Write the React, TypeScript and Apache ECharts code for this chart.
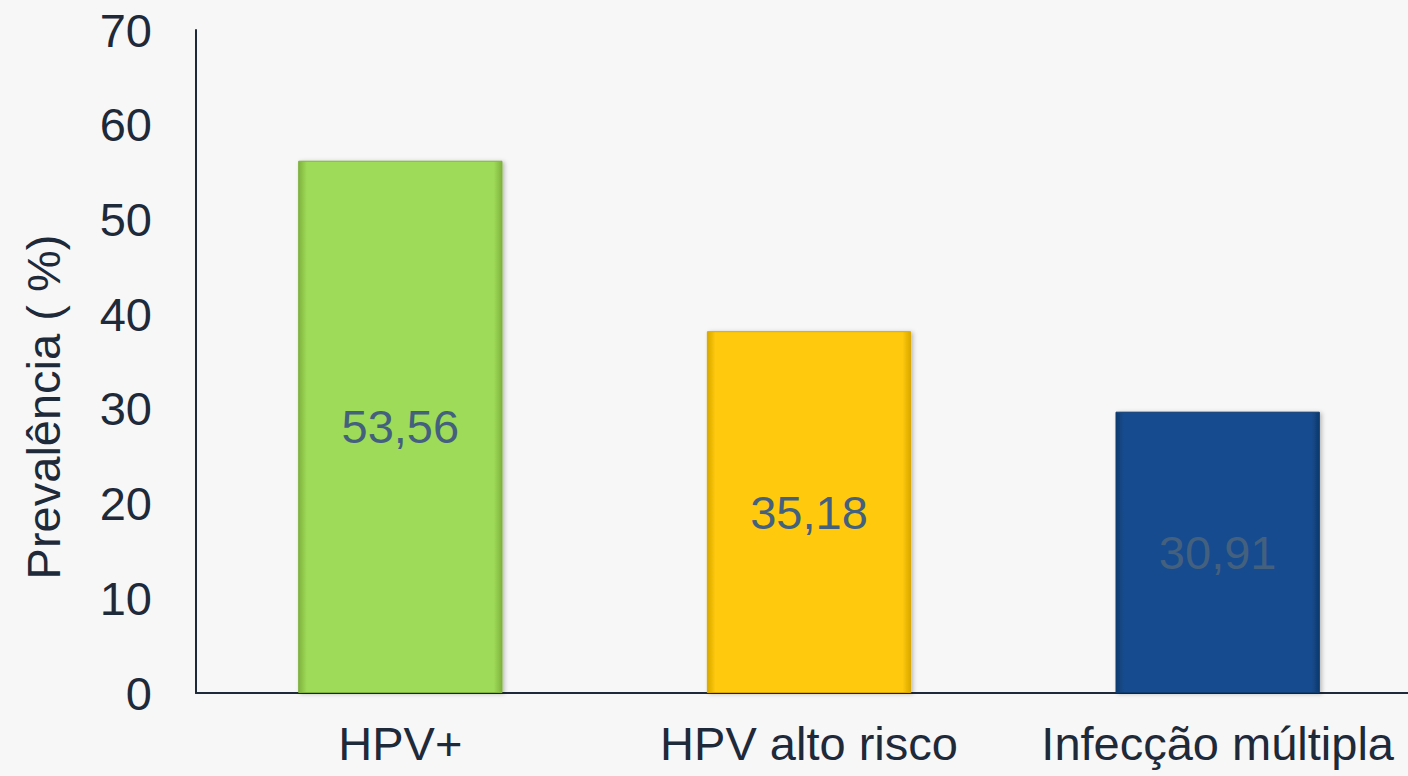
import React, { useEffect, useRef } from "react";
import * as echarts from "echarts";

const categories = ["HPV+", "HPV alto risco", "Infecção múltipla"];
const barHeights = [56.2, 38.2, 29.7];
const printedLabels = ["53,56", "35,18", "30,91"];
const barColors = ["#9edb58", "#ffc90a", "#154c8f"];
const barEdgeColors = ["#7fb23e", "#d9a800", "#0e3a6e"];
const yTicks = { min: 0, max: 70, interval: 10 };
const yName = "Prevalência ( %)";

export default function App() {
  const ref = useRef<HTMLDivElement>(null);
  useEffect(() => {
    if (!ref.current) return;
    const chart = echarts.init(ref.current, null, { renderer: "svg" });
    const font = "'Liberation Sans', Arial, sans-serif";
    const textColor = "#1e2a3a";
    chart.setOption({
      animation: false,
      backgroundColor: "#f7f7f7",
      textStyle: { fontFamily: font },
      grid: { left: 196, right: 8, top: 30, bottom: 83, containLabel: false },
      graphic: [
        {
          type: "text",
          x: 43,
          y: 407,
          rotation: Math.PI / 2,
          style: {
            text: yName,
            fill: textColor,
            fontSize: 47,
            fontFamily: font,
            align: "center",
            verticalAlign: "middle",
          },
        },
      ],
      xAxis: {
        type: "category",
        data: categories,
        axisLine: { lineStyle: { color: textColor, width: 2 } },
        axisTick: { show: false },
        axisLabel: { color: textColor, fontSize: 47, fontFamily: font, margin: 27, interval: 0 },
      },
      yAxis: {
        type: "value",
        min: yTicks.min,
        max: yTicks.max,
        interval: yTicks.interval,
        axisLine: { show: true, lineStyle: { color: textColor, width: 2 } },
        axisTick: { show: false },
        splitLine: { show: false },
        axisLabel: { color: textColor, fontSize: 47, fontFamily: font, margin: 44 },
      },
      series: [
        {
          type: "bar",
          barWidth: "50%",
          data: barHeights.map((v, i) => ({
            value: v,
            itemStyle: {
              color: {
                type: "linear",
                x: 0, y: 0, x2: 1, y2: 0,
                colorStops: [
                  { offset: 0, color: barEdgeColors[i] },
                  { offset: 0.04, color: barColors[i] },
                  { offset: 0.96, color: barColors[i] },
                  { offset: 1, color: barEdgeColors[i] },
                ],
              },
              borderColor: barEdgeColors[i],
              borderWidth: 1,
              shadowColor: "rgba(0,0,0,0.25)",
              shadowBlur: 4,
              shadowOffsetX: 2,
              shadowOffsetY: 1,
            },
          })),
          label: {
            show: true,
            position: "inside",
            color: "#44607f",
            fontSize: 47,
            fontFamily: font,
            formatter: (p: any) => printedLabels[p.dataIndex],
          },
        },
      ],
    });
    return () => chart.dispose();
  }, []);
  return (
    <div style={{ position: "fixed", left: 0, top: 0, width: 1408, height: 776, overflow: "hidden" }}>
      <div ref={ref} style={{ width: 1430, height: 776 }} />
    </div>
  );
}
